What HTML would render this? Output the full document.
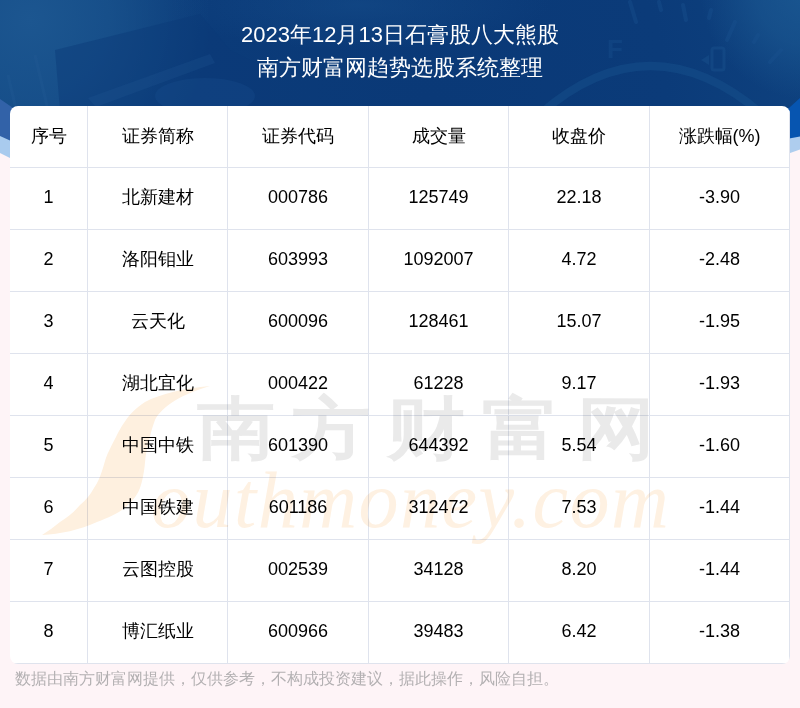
<!DOCTYPE html>
<html>
<head>
<meta charset="utf-8">
<style>
html,body{margin:0;padding:0;}
body{width:800px;height:708px;overflow:hidden;position:relative;background:#fef4f7;font-family:"Liberation Sans",sans-serif;}
#hdr{position:absolute;left:0;top:0;width:800px;height:200px;}
#title{position:absolute;left:0;top:0;width:800px;color:#fff;font-size:22px;text-align:center;}
#title div{position:absolute;left:0;width:800px;height:32px;line-height:32px;}
#card{position:absolute;left:10px;top:106px;width:780px;height:558px;background:#fff;border-radius:8px;overflow:hidden;}
.vl{position:absolute;top:0;width:1px;height:558px;background:#dfe3ed;}
.hl{position:absolute;left:0;width:780px;height:1px;background:#dfe3ed;}
.c{position:absolute;height:62px;line-height:58px;text-align:center;font-size:18px;color:#000;white-space:nowrap;}
.h{line-height:60px;}
#foot{position:absolute;left:15px;top:667px;font-size:16px;line-height:24px;color:#b3b0b2;white-space:nowrap;}
#wm{position:absolute;left:0;top:0;width:800px;height:708px;mix-blend-mode:multiply;pointer-events:none;}
</style>
</head>
<body>
<svg id="hdr" width="800" height="200" viewBox="0 0 800 200">
  <defs>
    <radialGradient id="g1" cx="430" cy="100" r="430" gradientUnits="userSpaceOnUse">
      <stop offset="0" stop-color="#0a3977"/>
      <stop offset="0.55" stop-color="#0b3b79"/>
      <stop offset="1" stop-color="#0f4380"/>
    </radialGradient>
    <radialGradient id="g2" cx="30" cy="20" r="180" gradientUnits="userSpaceOnUse">
      <stop offset="0" stop-color="#1c5690" stop-opacity="1"/>
      <stop offset="0.45" stop-color="#1a548e" stop-opacity="0.75"/>
      <stop offset="1" stop-color="#1a548e" stop-opacity="0"/>
    </radialGradient>
    <radialGradient id="g3" cx="810" cy="-10" r="110" gradientUnits="userSpaceOnUse">
      <stop offset="0" stop-color="#1b5892" stop-opacity="0.9"/>
      <stop offset="0.5" stop-color="#1b5892" stop-opacity="0.6"/>
      <stop offset="1" stop-color="#1b5892" stop-opacity="0"/>
    </radialGradient>
    <radialGradient id="g4" cx="0.5" cy="0.5" r="0.5">
      <stop offset="0" stop-color="#1a5592" stop-opacity="0.4"/>
      <stop offset="1" stop-color="#1a5592" stop-opacity="0"/>
    </radialGradient>
  </defs>
  <rect x="0" y="0" width="800" height="200" fill="url(#g1)"/>
  <ellipse cx="360" cy="5" rx="190" ry="45" fill="url(#g4)"/>
  <rect x="0" y="0" width="800" height="200" fill="url(#g2)"/>
  <rect x="0" y="0" width="800" height="200" fill="url(#g3)"/>
  <!-- faint dashboard shapes left -->
  <polygon points="55,50 200,14 230,50 270,70 270,110 60,110" fill="#0a3a78" opacity="0.45"/>
  <polygon points="88,98 210,54 215,63 96,107" fill="#2a609a" opacity="0.2"/>
  <ellipse cx="205" cy="96" rx="50" ry="18" fill="#1c5592" opacity="0.25"/>
  <g stroke="#2a609a" stroke-width="3" opacity="0.2"><line x1="35" y1="55" x2="48" y2="110"/><line x1="8" y1="75" x2="15" y2="105"/></g>
  <!-- gauge right -->
  <path d="M540,114 Q650,18 762,114" fill="none" stroke="#16508c" stroke-width="8" opacity="0.5"/>
  <g stroke="#1a5290" stroke-width="4" opacity="0.38" stroke-linecap="round">
    <line x1="630" y1="2" x2="636" y2="22"/>
    <line x1="659" y1="2" x2="661" y2="10"/>
    <line x1="683" y1="5" x2="686" y2="20"/>
    <line x1="711" y1="10" x2="709" y2="18"/>
    <line x1="735" y1="22" x2="727" y2="40"/>
    <line x1="758" y1="35" x2="754" y2="42"/>
    <line x1="781" y1="50" x2="770" y2="62"/>
  </g>
  <text x="607" y="58" font-family="Liberation Sans" font-weight="bold" font-size="26" fill="#174f8c" opacity="0.42">F</text>
  <rect x="712" y="48" width="12" height="22" rx="2" fill="none" stroke="#174f8c" stroke-width="3" opacity="0.5"/><polygon points="701,60 709,55 709,65" fill="#174f8c" opacity="0.5"/>
  <!-- left slivers -->
  <polygon points="0,99 60,140 60,200 0,200" fill="#3262a8"/>
  <polygon points="0,136 60,163 60,200 0,200" fill="#a9cbee"/>
  <polygon points="0,153 60,183 60,200 0,200" fill="#fef4f7"/>
  <!-- right slivers -->
  <polygon points="800,98 690,197 800,197" fill="#0755b0"/>
  <polygon points="800,136.5 700,155 700,200 800,200" fill="#aecdee"/>
  <polygon points="800,149.5 700,185 700,200 800,200" fill="#fef4f7"/>
</svg>
<div id="title">
  <div style="top:19px">2023年12月13日石膏股八大熊股</div>
  <div style="top:52px">南方财富网趋势选股系统整理</div>
</div>
<div id="card">
  <div class="vl" style="left:77px"></div>
  <div class="vl" style="left:217px"></div>
  <div class="vl" style="left:358px"></div>
  <div class="vl" style="left:498px"></div>
  <div class="vl" style="left:639px"></div>
  <div class="vl" style="left:779px"></div>
  <div class="hl" style="top:61px"></div>
  <div class="hl" style="top:123px"></div>
  <div class="hl" style="top:185px"></div>
  <div class="hl" style="top:247px"></div>
  <div class="hl" style="top:309px"></div>
  <div class="hl" style="top:371px"></div>
  <div class="hl" style="top:433px"></div>
  <div class="hl" style="top:495px"></div>
  <div class="hl" style="top:557px"></div>
  <div id="rows">
  <div class="c h" style="left:0px;top:0px;width:77px">序号</div>
  <div class="c h" style="left:78px;top:0px;width:139px">证券简称</div>
  <div class="c h" style="left:218px;top:0px;width:140px">证券代码</div>
  <div class="c h" style="left:359px;top:0px;width:139px">成交量</div>
  <div class="c h" style="left:499px;top:0px;width:140px">收盘价</div>
  <div class="c h" style="left:640px;top:0px;width:139px">涨跌幅(%)</div>
  <div class="c" style="left:0px;top:62px;width:77px">1</div>
  <div class="c" style="left:78px;top:62px;width:139px">北新建材</div>
  <div class="c" style="left:218px;top:62px;width:140px">000786</div>
  <div class="c" style="left:359px;top:62px;width:139px">125749</div>
  <div class="c" style="left:499px;top:62px;width:140px">22.18</div>
  <div class="c" style="left:640px;top:62px;width:139px">-3.90</div>
  <div class="c" style="left:0px;top:124px;width:77px">2</div>
  <div class="c" style="left:78px;top:124px;width:139px">洛阳钼业</div>
  <div class="c" style="left:218px;top:124px;width:140px">603993</div>
  <div class="c" style="left:359px;top:124px;width:139px">1092007</div>
  <div class="c" style="left:499px;top:124px;width:140px">4.72</div>
  <div class="c" style="left:640px;top:124px;width:139px">-2.48</div>
  <div class="c" style="left:0px;top:186px;width:77px">3</div>
  <div class="c" style="left:78px;top:186px;width:139px">云天化</div>
  <div class="c" style="left:218px;top:186px;width:140px">600096</div>
  <div class="c" style="left:359px;top:186px;width:139px">128461</div>
  <div class="c" style="left:499px;top:186px;width:140px">15.07</div>
  <div class="c" style="left:640px;top:186px;width:139px">-1.95</div>
  <div class="c" style="left:0px;top:248px;width:77px">4</div>
  <div class="c" style="left:78px;top:248px;width:139px">湖北宜化</div>
  <div class="c" style="left:218px;top:248px;width:140px">000422</div>
  <div class="c" style="left:359px;top:248px;width:139px">61228</div>
  <div class="c" style="left:499px;top:248px;width:140px">9.17</div>
  <div class="c" style="left:640px;top:248px;width:139px">-1.93</div>
  <div class="c" style="left:0px;top:310px;width:77px">5</div>
  <div class="c" style="left:78px;top:310px;width:139px">中国中铁</div>
  <div class="c" style="left:218px;top:310px;width:140px">601390</div>
  <div class="c" style="left:359px;top:310px;width:139px">644392</div>
  <div class="c" style="left:499px;top:310px;width:140px">5.54</div>
  <div class="c" style="left:640px;top:310px;width:139px">-1.60</div>
  <div class="c" style="left:0px;top:372px;width:77px">6</div>
  <div class="c" style="left:78px;top:372px;width:139px">中国铁建</div>
  <div class="c" style="left:218px;top:372px;width:140px">601186</div>
  <div class="c" style="left:359px;top:372px;width:139px">312472</div>
  <div class="c" style="left:499px;top:372px;width:140px">7.53</div>
  <div class="c" style="left:640px;top:372px;width:139px">-1.44</div>
  <div class="c" style="left:0px;top:434px;width:77px">7</div>
  <div class="c" style="left:78px;top:434px;width:139px">云图控股</div>
  <div class="c" style="left:218px;top:434px;width:140px">002539</div>
  <div class="c" style="left:359px;top:434px;width:139px">34128</div>
  <div class="c" style="left:499px;top:434px;width:140px">8.20</div>
  <div class="c" style="left:640px;top:434px;width:139px">-1.44</div>
  <div class="c" style="left:0px;top:496px;width:77px">8</div>
  <div class="c" style="left:78px;top:496px;width:139px">博汇纸业</div>
  <div class="c" style="left:218px;top:496px;width:140px">600966</div>
  <div class="c" style="left:359px;top:496px;width:139px">39483</div>
  <div class="c" style="left:499px;top:496px;width:140px">6.42</div>
  <div class="c" style="left:640px;top:496px;width:139px">-1.38</div>
  </div>
</div>
<svg id="wm" width="800" height="708" viewBox="0 0 800 708">
  <path d="M210,386 C185,388 160,394 145,402 C136,408 130,414 126,420 C121,427 119,431 116,437 C112,444 110,449 107.5,454 C105,460 104,465 102,471 C100,477 98,482 94,488 C90,495 86,500 80,505 C74,512 68,517 60,522 C54,527 48,531 42,535 C60,534 80,530 97,522 C110,517 121,512 128,505 C134,499 138,494 140,488 C142,482 143,477 144,471 C145,465 145,460 146,454 C147,448 148,443 150,437 C151,431 153,426 155,420 C160,410 175,396 210,386 Z" fill="#fef0df"/>
  <text x="151" y="527" font-family="Liberation Serif" font-style="italic" font-size="80" letter-spacing="1.5" fill="#fef1e2">outhmoney.com</text>
  <g transform="translate(0,427.5) scale(1,0.87)"><text x="197" y="28.5" font-family="Liberation Sans" font-weight="bold" font-size="78" letter-spacing="17" fill="#eaeaea">南方财富网</text></g>
</svg>
<div id="foot">数据由南方财富网提供，仅供参考，不构成投资建议，据此操作，风险自担。</div>
</body>
</html>
